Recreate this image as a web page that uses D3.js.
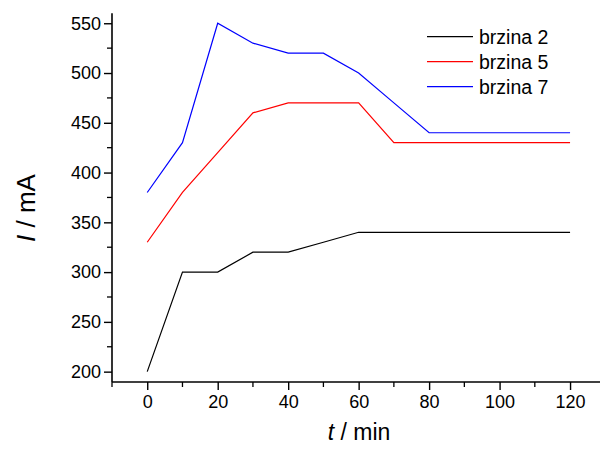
<!DOCTYPE html>
<html><head><meta charset="utf-8">
<script src="https://cdn.jsdelivr.net/npm/d3@7"></script>
<style>body{margin:0;background:#fff}svg{display:block;font-family:"Liberation Sans",Arial,sans-serif}</style>
</head><body><svg id="c" width="601" height="453"></svg>
<script>
const times = [0,10,20,30,40,50,60,70,80,90,100,110,120];
const brzina2 = [200,300,300,320,320,330,340,340,340,340,340,340,340];
const brzina5 = [330,380,420,460,470,470,470,430,430,430,430,430,430];
const brzina7 = [380,430,550,530,520,520,500,470,440,440,440,440,440];
const seriesNames = ["brzina 2","brzina 5","brzina 7"];
const seriesColors = ["#000000","#ff0000","#0000ff"];
const xTicks = [0,20,40,60,80,100,120];
const yTicks = [200,250,300,350,400,450,500,550];

const svg = d3.select("#c");
const x = d3.scaleLinear().domain([-10,128.5]).range([112,600]);
const y = d3.scaleLinear().domain([189.6,560]).range([382,13.3]);

const g = svg.append("g");
const xMinor = d3.range(-10,130,10).filter(v=>!xTicks.includes(v));
const yMinor = d3.range(200,575,25).filter(v=>!yTicks.includes(v));
g.selectAll(".xm").data(xMinor).enter().append("line")
  .attr("x1",d=>x(d)).attr("x2",d=>x(d)).attr("y1",382).attr("y2",387)
  .attr("stroke","#000").attr("stroke-width",1.3);
g.selectAll(".ym").data(yMinor).enter().append("line")
  .attr("y1",d=>y(d)).attr("y2",d=>y(d)).attr("x1",112).attr("x2",107)
  .attr("stroke","#000").attr("stroke-width",1.3);

const xAxis = d3.axisBottom(x).tickValues(xTicks).tickSize(8).tickPadding(5).tickSizeOuter(0);
const yAxis = d3.axisLeft(y).tickValues(yTicks).tickSize(8).tickPadding(3).tickSizeOuter(0);
const gx = svg.append("g").attr("transform","translate(0,382)").call(xAxis);
const gy = svg.append("g").attr("transform","translate(112,0)").call(yAxis);
[gx,gy].forEach(a=>{
  a.select(".domain").attr("stroke","#000").attr("stroke-width",1.6);
  a.selectAll(".tick line").attr("stroke","#000").attr("stroke-width",1.4);
  a.selectAll("text").attr("font-size","18px").attr("fill","#000").attr("font-family","Liberation Sans, Arial, sans-serif");
});
gy.select(".domain").attr("d","M0,382V13.3");
gx.select(".domain").attr("d","M112,0H600");

const line = d3.line().x(d=>x(d[0])).y(d=>y(d[1]));
[brzina2,brzina5,brzina7].forEach((s,i)=>{
  svg.append("path").datum(times.map((t,j)=>[t,s[j]]))
    .attr("d",line).attr("fill","none").attr("stroke",seriesColors[i]).attr("stroke-width",1.2);
});

const leg = svg.append("g");
seriesNames.forEach((n,i)=>{
  const yy = 36.7 + i*25;
  leg.append("line").attr("x1",427).attr("x2",473).attr("y1",yy).attr("y2",yy)
    .attr("stroke",seriesColors[i]).attr("stroke-width",1.2);
  leg.append("text").attr("x",479).attr("y",yy+7).attr("font-size","19.5px").text(n);
});

const xt = svg.append("text").attr("x",359).attr("y",440).attr("text-anchor","middle").attr("font-size","23px");
xt.append("tspan").attr("font-style","italic").text("t");
xt.append("tspan").text(" / min");
const yt = svg.append("text").attr("transform","translate(35,208) rotate(-90)").attr("text-anchor","middle").attr("font-size","26px");
yt.append("tspan").attr("font-style","italic").text("I");
yt.append("tspan").text(" / mA");
</script></body></html>
